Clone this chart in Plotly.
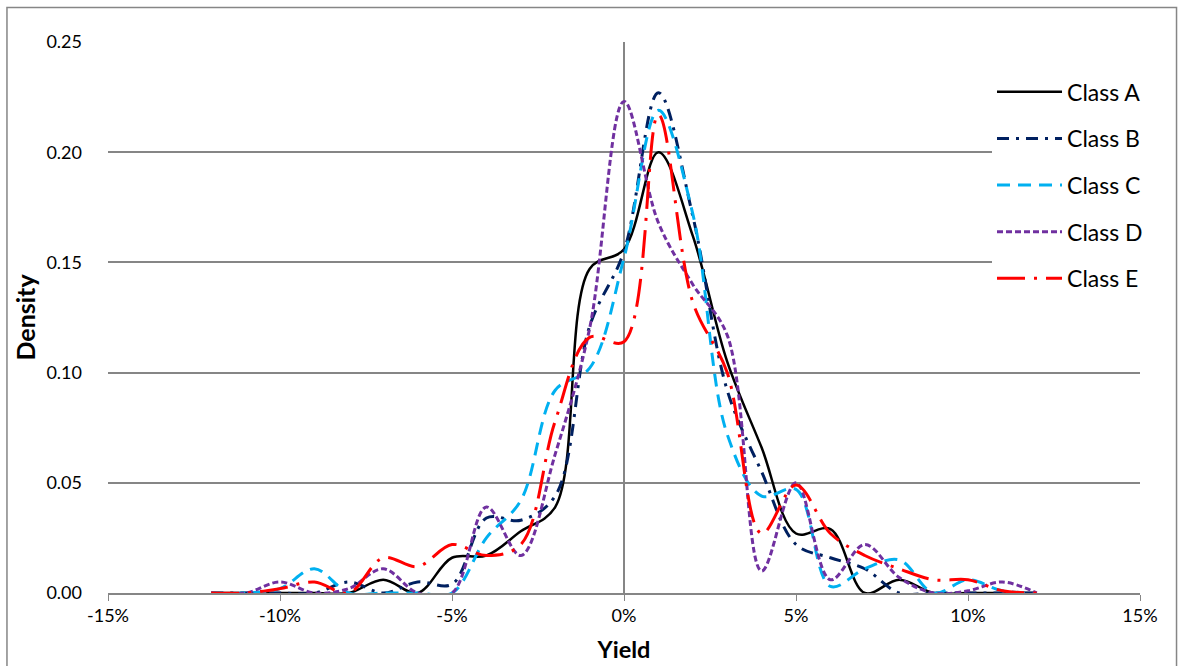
import plotly.graph_objects as go

# ---------------- data ----------------
yields = [-0.12, -0.11, -0.10, -0.09, -0.08, -0.07, -0.06, -0.05, -0.04, -0.03, -0.02, -0.01,
          0.00, 0.01, 0.02, 0.03, 0.04, 0.05, 0.06, 0.07, 0.08, 0.09, 0.10, 0.11, 0.12]

class_a = [0, 0, 0, 0, 0, 0.006, 0, 0.016, 0.017, 0.028, 0.039, 0.147,
           0.156, 0.200, 0.162, 0.105, 0.066, 0.027, 0.029, 0, 0.006, 0, 0, 0, 0]
class_b = [0, 0, 0, 0, 0.005, 0, 0.005, 0.004, 0.034, 0.033, 0.044, 0.121,
           0.155, 0.227, 0.171, 0.092, 0.055, 0.022, 0.016, 0.011, 0, 0, 0, 0, 0]
class_c = [0, 0, 0.002, 0.011, 0, 0, 0, 0, 0.025, 0.042, 0.092, 0.102,
           0.152, 0.219, 0.172, 0.072, 0.044, 0.047, 0.003, 0.011, 0.015, 0, 0.006, 0.001, 0]
class_d = [0, 0, 0.005, 0, 0.002, 0.011, 0, 0, 0.039, 0.017, 0.063, 0.120,
           0.223, 0.168, 0.140, 0.117, 0.010, 0.050, 0.006, 0.022, 0.007, 0, 0.001, 0.005, 0]
class_e = [0, 0, 0.002, 0.005, 0, 0.016, 0.012, 0.022, 0.017, 0.022, 0.078, 0.116,
           0.114, 0.217, 0.132, 0.100, 0.027, 0.049, 0.027, 0.017, 0.011, 0.006, 0.006, 0.001, 0]

names = ["Class A", "Class B", "Class C", "Class D", "Class E"]
values = [class_a, class_b, class_c, class_d, class_e]

x_ticks = [-0.15, -0.10, -0.05, 0.0, 0.05, 0.10, 0.15]
x_labels = ["-15%", "-10%", "-5%", "0%", "5%", "10%", "15%"]
y_ticks = [0.0, 0.05, 0.10, 0.15, 0.20, 0.25]
y_labels = ["0.00", "0.05", "0.10", "0.15", "0.20", "0.25"]

# ---------------- styles ----------------
colors = ["#000000", "#002060", "#00B0F0", "#7030A0", "#FF0000"]
dashes = ["solid", "12px,7px,3px,7px", "13px,8px", "6px,3px", "28px,9px,3px,9px"]
widths = [2.5, 3, 3, 3, 3]

GRID = "#868686"
FONT = "Lato"

fig = go.Figure()
for name, vals, col, dsh, w in zip(names, values, colors, dashes, widths):
    fig.add_trace(go.Scatter(
        x=yields, y=vals, mode="lines", name=name, legendgroup=name,
        line=dict(color=col, dash=dsh, width=w, shape="spline", smoothing=1.0),
    ))

fig.update_layout(
    width=1184, height=666,
    margin=dict(l=108, r=44, t=42, b=73),
    paper_bgcolor="white", plot_bgcolor="white",
    font=dict(family=FONT, size=18, color="#000000"),
    showlegend=True,
    legend=dict(
        x=0.8566, xanchor="left", y=0.9486, yanchor="top",
        bgcolor="white", borderwidth=0,
        font=dict(family=FONT, size=23, color="#000000"),
        traceorder="grouped", tracegroupgap=13.75, itemwidth=65,
    ),
    xaxis=dict(
        range=[-0.15, 0.15], tickvals=x_ticks, ticktext=x_labels,
        ticks="outside", ticklen=6, tickcolor=GRID, tickwidth=1,
        showgrid=False, zeroline=True, zerolinecolor=GRID, zerolinewidth=1.5,
        showline=True, linecolor=GRID, linewidth=1.5,
        tickfont=dict(family=FONT, size=18, color="#000000"),
        title=dict(text="Yield", font=dict(family=FONT, size=23.5, color="#000000", weight="bold"), standoff=16),
        automargin=False,
    ),
    yaxis=dict(
        range=[0, 0.25], tickvals=y_ticks, ticktext=y_labels,
        ticks="", showgrid=True, gridcolor=GRID, gridwidth=1.5,
        zeroline=False, showline=False,
        ticklabelstandoff=25,
        tickfont=dict(family=FONT, size=18, color="#000000"),
        title=dict(text="Density", font=dict(family=FONT, size=25, color="#000000", weight="bold"), standoff=3),
        automargin=False,
    ),
    shapes=[dict(
        type="rect", xref="paper", yref="paper",
        x0=-0.0979, x1=1.0354, y0=-0.15, y1=1.0626,
        line=dict(color=GRID, width=1.5), fillcolor="rgba(0,0,0,0)", layer="below",
    )],
)

fig.write_html(
    "out.html",
    config={"displayModeBar": False},
    post_script="document.body.style.margin='0';document.body.style.overflow='hidden';",
)
